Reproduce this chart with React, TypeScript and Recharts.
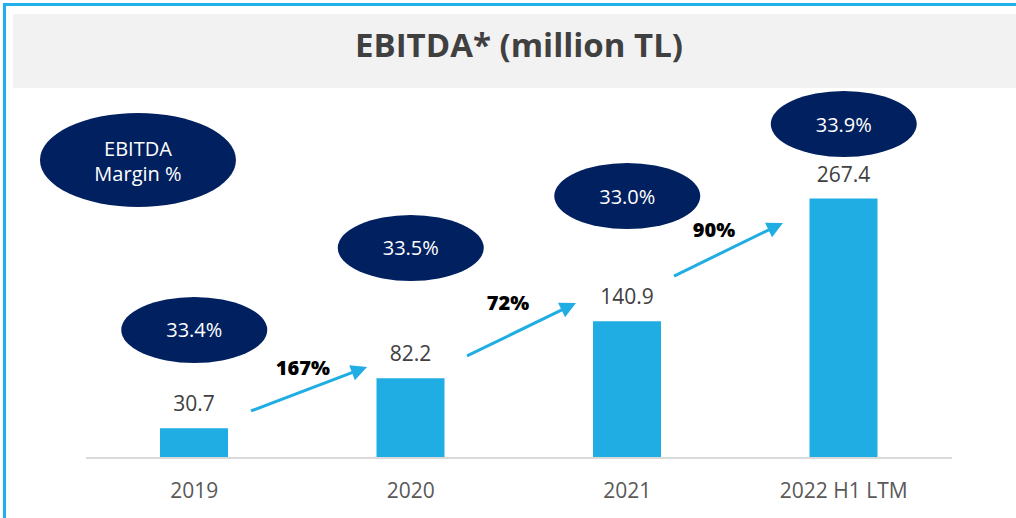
import { ComposedChart, Bar, XAxis, YAxis, LabelList, ReferenceDot, ReferenceLine } from 'recharts';

const categories = ['2019', '2020', '2021', '2022 H1 LTM'];
const ebitda = [30.7, 82.2, 140.9, 267.4];
const margins = ['33.4%', '33.5%', '33.0%', '33.9%'];
const growth = ['167%', '72%', '90%'];

// annotation anchors in chart units (x = bar index, y = EBITDA scale)
const marginAnchorY = [132, 216.5, 270, 344.3];
const legendAnchor = { x: -0.26, y: 307.2 };
const arrowFrom = [{ x: 0.262, y: 48.5 }, { x: 1.26, y: 105.2 }, { x: 2.216, y: 187.6 }];
const arrowTo = [{ x: 0.798, y: 93.8 }, { x: 1.763, y: 159.8 }, { x: 2.719, y: 242.3 }];
const growthAnchor = [{ x: 0.502, y: 92.8 }, { x: 1.449, y: 160.8 }, { x: 2.401, y: 235.1 }];

const BAR = '#1FADE4';
const NAVY = '#012060';
const ARROW = '#1FADE4';
const FONT = '"Open Sans", "Noto Sans", sans-serif';

const data = categories.map((c, i) => ({ name: c, idx: i, value: ebitda[i] }));

const MarginBubble = (props: any) => {
  const { cx, cy, text } = props;
  return (
    <g>
      <ellipse cx={cx} cy={cy} rx={73} ry={33} fill={NAVY} />
      <text x={cx} y={cy} textAnchor="middle" dominantBaseline="central" fill="#fff" fontSize={20} fontFamily={FONT}>
        {text}
      </text>
    </g>
  );
};

const LegendBubble = (props: any) => {
  const { cx, cy } = props;
  return (
    <g>
      <ellipse cx={cx} cy={cy} rx={98} ry={47} fill={NAVY} />
      <text x={cx} y={cy - 12} textAnchor="middle" dominantBaseline="central" fill="#fff" fontSize={20} fontFamily={FONT}>
        EBITDA
      </text>
      <text x={cx} y={cy + 13} textAnchor="middle" dominantBaseline="central" fill="#fff" fontSize={20} fontFamily={FONT}>
        Margin %
      </text>
    </g>
  );
};

const Arrow = (props: any) => {
  const { x1, y1, x2, y2 } = props;
  const dx = x2 - x1;
  const dy = y2 - y1;
  const len = Math.hypot(dx, dy) || 1;
  const ux = dx / len;
  const uy = dy / len;
  const hl = 16;
  const hw = 8;
  const bx = x2 - ux * hl;
  const by = y2 - uy * hl;
  return (
    <g>
      <line x1={x1} y1={y1} x2={bx + ux * 2} y2={by + uy * 2} stroke={ARROW} strokeWidth={3} />
      <polygon
        points={`${x2},${y2} ${bx - uy * hw},${by + ux * hw} ${bx + uy * hw},${by - ux * hw}`}
        fill={ARROW}
      />
    </g>
  );
};

const GrowthLabel = (props: any) => {
  const { cx, cy, text } = props;
  return (
    <text x={cx} y={cy} textAnchor="middle" dominantBaseline="central" fill="#000" fontSize={20} fontWeight={800} fontFamily={FONT}>
      {text}
    </text>
  );
};

export default function App() {
  return (
    <div style={{ position: 'fixed', left: 0, top: 0, width: 1016, height: 518, background: '#fff', overflow: 'hidden' }}>
      {/* frame + title band */}
      <svg width={1016} height={518} style={{ position: 'absolute', left: 0, top: 0 }}>
        <rect x={3} y={3} width={1013} height={3} fill="#1FB1EA" />
        <rect x={3} y={3} width={3} height={515} fill="#1FB1EA" />
        <rect x={13} y={14} width={1003} height={74} fill="#F2F2F2" />
        <text x={519} y={57} textAnchor="middle" fill="#404040" fontSize={33} fontWeight={700} fontFamily={FONT}>
          EBITDA* (million TL)
        </text>
      </svg>
      <div style={{ position: 'absolute', left: 0, top: 0 }}>
        <ComposedChart width={1016} height={518} data={data} margin={{ top: 70, right: 64, bottom: 20, left: 86 }}>
          <XAxis
            dataKey="name"
            height={40}
            tickLine={false}
            axisLine={{ stroke: '#D9D9D9', strokeWidth: 2 }}
            tick={{ fill: '#595959', fontSize: 21, fontFamily: FONT }}
            tickMargin={19}
          />
          <XAxis xAxisId="n" dataKey="idx" type="number" domain={[-0.5, 3.5]} allowDataOverflow hide />
          <YAxis domain={[0, 400]} allowDataOverflow hide />
          <Bar dataKey="value" fill={BAR} barSize={68} isAnimationActive={false}>
            <LabelList dataKey="value" position="top" offset={17} fill="#404040" fontSize={21} fontFamily={FONT} />
          </Bar>
          <ReferenceDot
            xAxisId="n"
            x={legendAnchor.x}
            y={legendAnchor.y}
            r={1}
            shape={(p: any) => <LegendBubble {...p} />}
          />
          {margins.map((m, i) => (
            <ReferenceDot
              key={m + i}
              xAxisId="n"
              x={i}
              y={marginAnchorY[i]}
              r={1}
              shape={(p: any) => <MarginBubble {...p} text={m} />}
            />
          ))}
          {growth.map((g, i) => (
            <ReferenceLine
              key={'a' + i}
              xAxisId="n"
              segment={[arrowFrom[i], arrowTo[i]]}
              shape={(p: any) => <Arrow {...p} />}
            />
          ))}
          {growth.map((g, i) => (
            <ReferenceDot
              key={'g' + i}
              xAxisId="n"
              x={growthAnchor[i].x}
              y={growthAnchor[i].y}
              r={1}
              shape={(p: any) => <GrowthLabel {...p} text={g} />}
            />
          ))}
        </ComposedChart>
      </div>
    </div>
  );
}
